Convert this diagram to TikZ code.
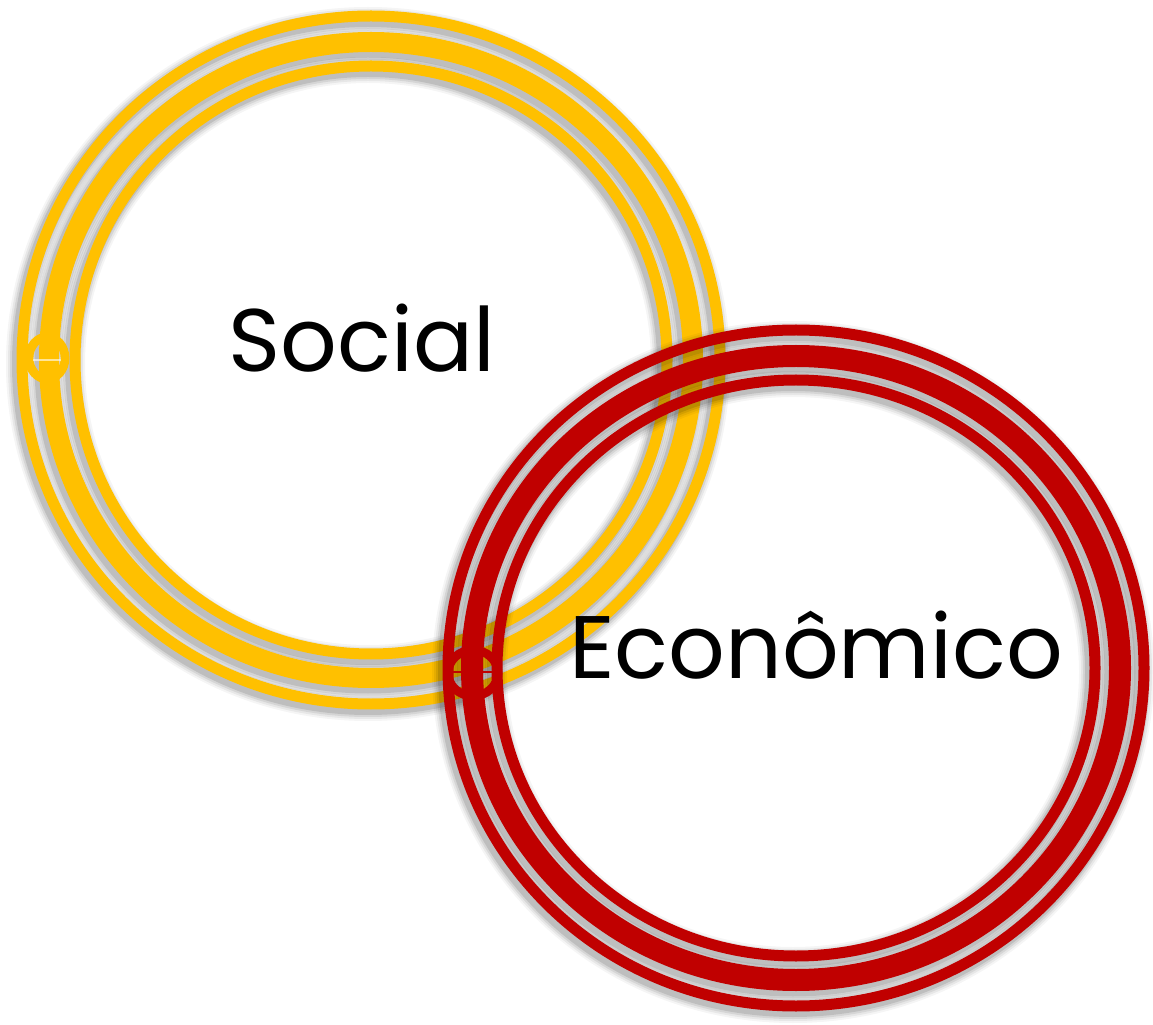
\documentclass[tikz,border=0pt]{standalone}
\usepackage{fontspec}
\setmainfont{Poppins}
\definecolor{ouro}{HTML}{FFC000}
\definecolor{vinho}{HTML}{C00000}

\begin{document}
\begin{tikzpicture}[x=0.2mm, y=0.2mm, every node/.style={font=\fontsize{50.5}{58}\selectfont, anchor=base},
    sombra/.style={draw=black, opacity=#1},
    elipse/.style 2 args={x radius=#1*0.2mm, y radius=#2*0.2mm}]
    \useasboundingbox (0,0) rectangle (1153,1024);

    % anel social
    \foreach \rx/\ry/\w in {296/294/11, 322/318/20, 349/344/11}
        \foreach \e/\o in {15/0.04, 11/0.06, 7/0.08, 3/0.11}
            \draw[sombra=\o, line width=(\w+\e)*0.569pt] (368,660) ellipse [elipse={\rx}{\ry}];
    \foreach \rx/\ry/\w in {296/294/11, 322/318/20, 349/344/11}
        \draw[ouro, line width=\w*0.569pt] (371,664) ellipse [elipse={\rx}{\ry}];
    \draw[ouro, line width=5pt] (47,666) ellipse [elipse={18}{21}];
    \draw[white, opacity=0.6, line width=1pt] (33,664) -- (61,664);

    % anel economico
    \foreach \rx/\ry/\w in {299/288/11, 324/312/22, 348/338/11}
        \foreach \e/\o in {15/0.04, 11/0.06, 7/0.08, 3/0.11}
            \draw[sombra=\o, line width=(\w+\e)*0.569pt] (793,352) ellipse [elipse={\rx}{\ry}];
    \foreach \rx/\ry/\w in {299/288/11, 324/312/22, 348/338/11}
        \draw[vinho, line width=\w*0.569pt] (796,356) ellipse [elipse={\rx}{\ry}];
    \draw[vinho, line width=5pt] (473,351) ellipse [elipse={25}{23}];
    \draw[vinho, line width=1pt] (452,352) -- (494,352);

    \node (social) at (362,652) {Social};
    \node (economico) at (816,346) {Econômico};
\end{tikzpicture}
\end{document}
